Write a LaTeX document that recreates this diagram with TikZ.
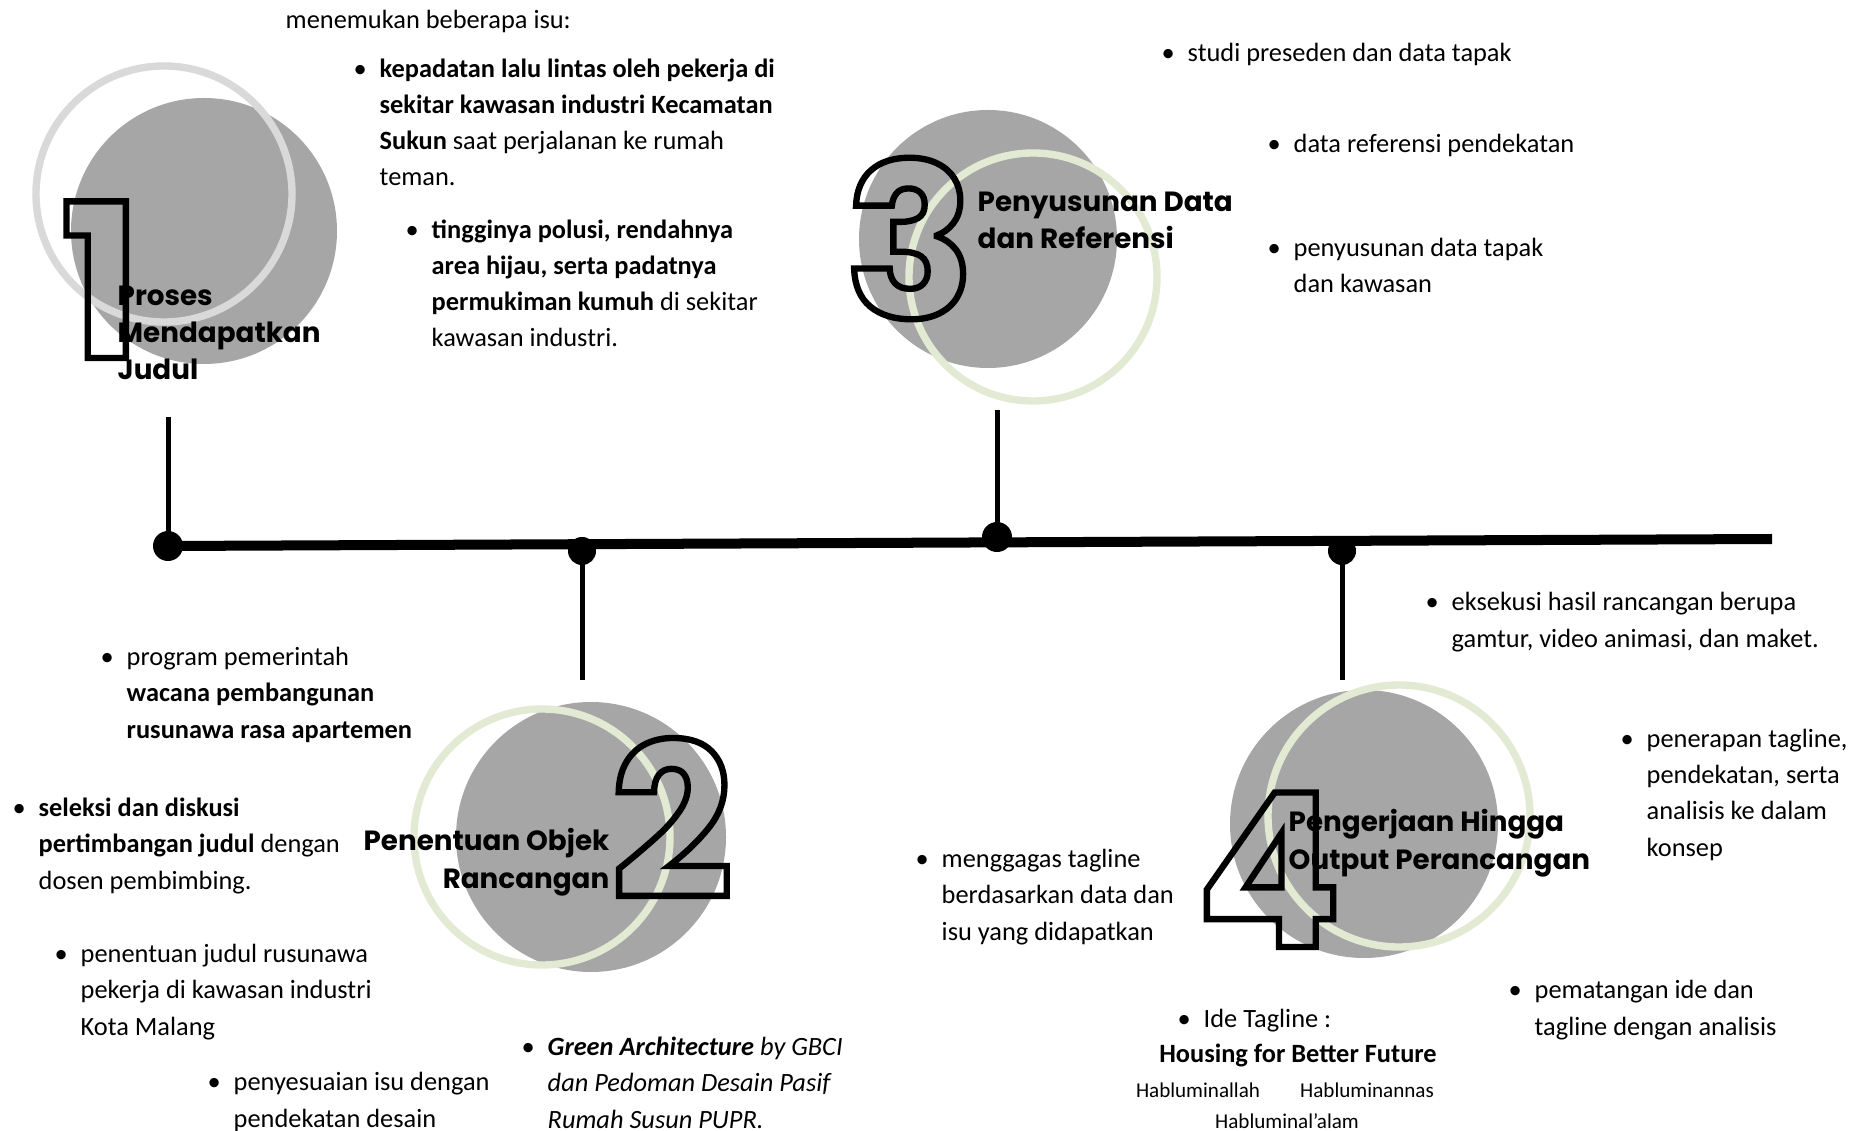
\documentclass[tikz,border=0pt]{standalone}
\usepackage{fontspec}
\setmainfont{Carlito}
\newfontfamily\titlefont{Poppins}
\definecolor{discgray}{HTML}{A6A6A6}
\definecolor{ringgray}{HTML}{D9D9D9}
\definecolor{ringgreen}{HTML}{E3EAD4}
\newcommand{\bul}{\llap{•\hspace{0.13cm}}}
\newcommand{\hollow}[1]{\special{pdf:literal direct 1 Tr 1.8 w 0 G}#1\special{pdf:literal direct 0 Tr}}
\tikzset{
  body/.style={font=\fontsize{7.5}{10.24}\selectfont, align=left, anchor=base west, inner sep=0pt},
  small/.style={font=\fontsize{6}{7}\selectfont, anchor=base, inner sep=0pt},
  titletext/.style={font=\titlefont\bfseries\fontsize{7.9}{10.6}\selectfont, align=left, anchor=base west, inner sep=0pt},
  bignum/.style={font=\titlefont\bfseries\fontsize{61}{61}\selectfont, anchor=base, inner sep=0pt},
  ring/.style={line width=2.1pt},
  dot/.style={circle, fill=black, inner sep=0pt, minimum size=0.3cm},
}
\begin{document}
\begin{tikzpicture}[x=0.01cm, y=-0.01cm]
  \useasboundingbox (0,0) rectangle (1867,1131);
  % discs and rings
  \fill[discgray] (204,231) circle (133);
  \fill[discgray] (591,837) circle (135);
  \fill[discgray] (988,239) circle (129);
  \fill[discgray] (1364,824) circle (134);
  \draw[ring, ringgray] (164,194) circle (128);
  \draw[ring, ringgreen] (542,837) circle (128);
  \draw[ring, ringgreen] (1033,277) circle (124);
  \draw[ring, ringgreen] (1399,816) circle (131);

  % timeline
  \node[dot] (dot1) at (168,546) {};
  \node[dot, minimum size=0.28cm] (dot2) at (582,551) {};
  \node[dot] (dot3) at (997,537) {};
  \node[dot, minimum size=0.28cm] (dot4) at (1342,551) {};
  \coordinate (lineend) at (1772,539);
  \coordinate (stem1) at (168,417);
  \coordinate (stem2) at (582,680);
  \coordinate (stem3) at (997,410);
  \coordinate (stem4) at (1342,680);
  \draw[line width=0.1cm] (dot1.center) -- (lineend);
  \draw[line width=0.05cm] (stem1) -- (dot1.center);
  \draw[line width=0.05cm] (dot2.center) -- (stem2);
  \draw[line width=0.05cm] (stem3) -- (dot3.center);
  \draw[line width=0.05cm] (dot4.center) -- (stem4);

  % big numbers
  \node[bignum] (num1) at (101,358) {\hollow{1}};
  \node[bignum] (num2) at (672,898) {\hollow{2}};
  \node[bignum] (num3) at (910,318) {\hollow{3}};
  \node[bignum] (num4) at (1269,947) {\hollow{4}};

  % titles (coordinate = baseline of last line)
  \node[titletext] (title1) at (117,380) {Proses\\Mendapatkan\\Judul};
  \node[titletext, align=right, anchor=base east] (title2) at (610,888) {Penentuan Objek\\Rancangan};
  \node[titletext] (title3) at (977,249) {Penyusunan Data\\dan Referensi};
  \node[titletext] (title4) at (1288,869) {Pengerjaan Hingga\\Output Perancangan};

  % notes above
  \node[body] (isu) at (285,29) {menemukan beberapa isu:};
  \node[body] (isu1) at (379,186) {\bul\textbf{kepadatan lalu lintas oleh pekerja di}\\\textbf{sekitar kawasan industri Kecamatan}\\\textbf{Sukun} saat perjalanan ke rumah\\teman.};
  \node[body] (isu2) at (431,347) {\bul\textbf{tingginya polusi, rendahnya}\\\textbf{area hijau, serta padatnya}\\\textbf{permukiman kumuh} di sekitar\\kawasan industri.};
  \node[body] (data1) at (1187,62) {\bul studi preseden dan data tapak};
  \node[body] (data2) at (1293,153) {\bul data referensi pendekatan};
  \node[body] (data3) at (1293,293) {\bul penyusunan data tapak\\dan kawasan};

  % notes below
  \node[body] (obj1) at (126,738) {\bul program pemerintah\\\textbf{wacana pembangunan}\\\textbf{rusunawa rasa apartemen}};
  \node[body] (obj2) at (38,889) {\bul\textbf{seleksi dan diskusi}\\\textbf{pertimbangan judul} dengan\\dosen pembimbing.};
  \node[body] (obj3) at (80,1035) {\bul penentuan judul rusunawa\\pekerja di kawasan industri\\Kota Malang};
  \node[body] (obj4) at (233,1127) {\bul penyesuaian isu dengan\\pendekatan desain};
  \node[body] (obj5) at (547,1128) {\bul\textit{\textbf{Green Architecture} by GBCI}\\\textit{dan Pedoman Desain Pasif}\\\textit{Rumah Susun PUPR.}};
  \node[body] (out1) at (1451,647) {\bul eksekusi hasil rancangan berupa\\gamtur, video animasi, dan maket.};
  \node[body] (out2) at (1646,856) {\bul penerapan tagline,\\pendekatan, serta\\analisis ke dalam\\konsep};
  \node[body] (out3) at (941,940) {\bul menggagas tagline\\berdasarkan data dan\\isu yang didapatkan};
  \node[body] (out4) at (1534,1035) {\bul pematangan ide dan\\tagline dengan analisis};
  \node[body] (tag) at (1203,1027) {\bul Ide Tagline :};
  \node[body, anchor=base] (tagline) at (1298,1062) {\textbf{Housing for Better Future}};
  \node[small] (hab1) at (1198,1097) {Habluminallah};
  \node[small] (hab2) at (1367,1097) {Habluminannas};
  \node[small] (hab3) at (1287,1128) {Habluminal’alam};
\end{tikzpicture}
\end{document}
